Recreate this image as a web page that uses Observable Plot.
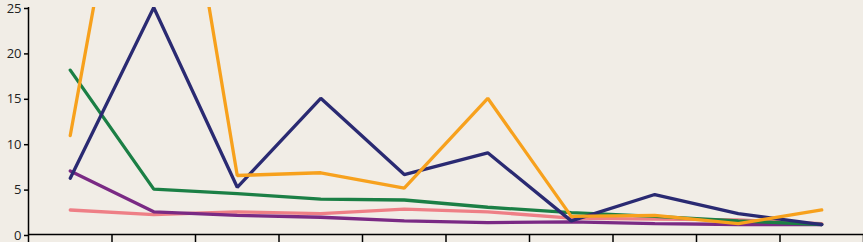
<!DOCTYPE html>
<html>
<head>
<meta charset="utf-8">
<script src="https://cdn.jsdelivr.net/npm/d3@7"></script>
<script src="https://cdn.jsdelivr.net/npm/@observablehq/plot@0.6"></script>
<style>
html,body{margin:0;padding:0;background:#f1ede6;}
#chart svg{display:block;}
</style>
</head>
<body>
<div id="chart"></div>
<script>
const categories = ["1","2","3","4","5","6","7","8","9","10"];
const yTicks = [0,5,10,15,20,25];
const seriesA = [2.7, 2.2, 2.5, 2.3, 2.8, 2.5, 1.8, 1.7, 1.6, 1.2];   // pink
const seriesB = [7.0, 2.5, 2.1, 1.9, 1.5, 1.3, 1.4, 1.2, 1.1, 1.1];   // purple
const seriesC = [18.1, 5.0, 4.5, 3.9, 3.8, 3.0, 2.4, 2.0, 1.5, 1.1];  // green
const seriesD = [6.2, 25.0, 5.2, 15.0, 6.6, 9.0, 1.5, 4.4, 2.3, 1.1]; // navy
const seriesE = [10.9, 61.5, 6.5, 6.8, 5.1, 15.0, 2.0, 2.1, 1.2, 2.7];// orange
const seriesNames = ["A", "B", "C", "D", "E"];
const seriesColors = ["#ee7f86", "#7a2a84", "#1b7f45", "#2a2a72", "#f7a11d"];
const seriesValues = [seriesA, seriesB, seriesC, seriesD, seriesE];

const rows = seriesValues.flatMap((vals, k) => vals.map((v, i) => ({series: seriesNames[k], idx: i + 0.5, cat: categories[i], value: v})));

const plot = Plot.plot({
  width: 863,
  height: 242,
  marginLeft: 28,
  marginRight: 0,
  marginTop: 7,
  marginBottom: 8,
  style: {background: "#f1ede6", fontFamily: "'Open Sans', sans-serif", fontSize: "13px", color: "#222", overflow: "visible"},
  x: {domain: [0, categories.length], axis: null, label: null},
  y: {domain: [0, 25], axis: null, label: null},
  color: {type: "ordinal", domain: seriesNames, range: seriesColors},
  marks: [
    Plot.axisX({ticks: d3.range(0, categories.length + 1), tickSize: 8, tickFormat: () => "", label: null, stroke: "#000", strokeWidth: 1.5}),
    Plot.axisY({ticks: yTicks, tickSize: 4, tickPadding: 3, label: null, stroke: "#000", strokeWidth: 1.5, fontSize: 13, fill: "#222", dy: 1}),
    Plot.line(rows, {x: "idx", y: "value", z: "series", stroke: "series", strokeWidth: 3.3, clip: true, strokeLinejoin: "miter"}),
    Plot.ruleY([0], {stroke: "#000", strokeWidth: 1.5}),
    Plot.ruleX([0], {stroke: "#000", strokeWidth: 1.5})
  ]
});
document.getElementById("chart").appendChild(plot);
</script>
</body>
</html>
